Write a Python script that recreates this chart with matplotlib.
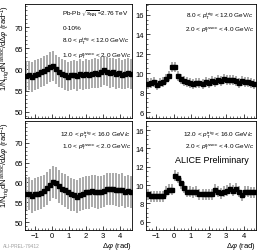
import matplotlib
matplotlib.use("Agg")
import matplotlib.pyplot as plt
import numpy as np

plt.rcParams['font.family'] = ['Liberation Sans', 'DejaVu Sans']
plt.rcParams['mathtext.fontset'] = 'custom'
plt.rcParams['mathtext.rm'] = 'Liberation Sans'
plt.rcParams['mathtext.it'] = 'Liberation Sans:italic'

# 36 bins in delta phi from -pi/2 to 3pi/2
nbins = 36
edges = np.linspace(-np.pi / 2, 3 * np.pi / 2, nbins + 1)
dphi = 0.5 * (edges[:-1] + edges[1:])

y_tl = [58.5, 58.6, 58.2, 58.7, 58.9, 59.3, 59.6, 60.0, 60.6, 60.8, 60.0, 59.4,
        59.0, 58.7, 58.3, 58.6, 58.8, 58.4, 58.9, 58.6, 58.9, 58.8, 59.0, 59.2,
        59.0, 59.4, 59.8, 59.5, 59.2, 59.3, 58.9, 59.2, 58.8, 58.9, 59.1, 58.9]
y_tr = [8.9, 9.0, 9.1, 8.8, 9.0, 9.1, 9.4, 9.7, 10.6, 10.6, 9.7, 9.4,
        9.2, 9.1, 9.0, 8.9, 9.0, 9.0, 8.9, 9.1, 9.0, 9.2, 9.1, 9.3,
        9.2, 9.4, 9.3, 9.3, 9.3, 9.2, 9.0, 9.2, 9.1, 9.1, 9.0, 8.9]
y_bl = [57.2, 57.2, 56.5, 57.0, 57.2, 57.4, 57.9, 58.5, 59.3, 60.1, 59.8, 59.0,
        58.3, 58.0, 57.5, 57.0, 56.8, 56.4, 56.9, 57.2, 57.5, 57.5, 57.9, 57.7,
        57.5, 57.6, 57.9, 58.3, 58.4, 58.4, 58.2, 58.0, 58.2, 57.6, 57.8, 57.6]
y_br = [9.0, 8.8, 8.8, 8.8, 8.8, 8.8, 9.3, 9.5, 9.5, 11.0, 10.8, 10.2,
        9.7, 9.3, 9.3, 9.2, 9.3, 9.0, 9.0, 9.0, 9.0, 9.0, 9.5, 9.3,
        9.1, 9.3, 9.4, 9.6, 9.4, 9.6, 9.3, 8.9, 9.3, 9.3, 9.2, 9.2]
syst = [3.5, 0.5, 4.1, 0.6]

fig = plt.figure(figsize=(2.62, 2.51), dpi=100)
W, H = 262, 251
boxes = [(25, 5, 132, 119), (146, 5, 256, 119), (25, 122, 132, 231), (146, 122, 256, 231)]
axes = []
for (x0, y0, x1, y1) in boxes:
    axes.append(fig.add_axes([x0 / W, 1 - y1 / H, (x1 - x0) / W, (y1 - y0) / H]))

data = [y_tl, y_tr, y_bl, y_br]
ylims = [(48.5, 75.5), (5.4, 17.1), (48.0, 75.5), (5.1, 17.0)]
for ax, y, s, yl in zip(axes, data, syst, ylims):
    y = np.array(y)
    ax.errorbar(dphi, y, yerr=s, fmt='none', ecolor='#aaaaaa', elinewidth=1.4, capsize=0)
    ax.errorbar(dphi, y, yerr=s * 0.08, fmt='s', color='black', ms=3.0, elinewidth=0.6)
    ax.set_xlim(-np.pi / 2, 3 * np.pi / 2)
    ax.set_ylim(*yl)
    ax.set_xticks([-1, 0, 1, 2, 3, 4])
    ax.xaxis.set_minor_locator(matplotlib.ticker.MultipleLocator(0.2))
    ax.tick_params(direction='in', labelsize=5.5, length=3, width=0.5, pad=1.5)
    ax.tick_params(which='minor', direction='in', length=1.5, width=0.4)
    for sp in ax.spines.values():
        sp.set_linewidth(0.6)

for ax in axes[:2]:
    ax.tick_params(labelbottom=False)
for ax in (axes[0], axes[2]):
    ax.set_yticks([50, 55, 60, 65, 70])
    ax.yaxis.set_minor_locator(matplotlib.ticker.MultipleLocator(1))
for ax in (axes[1], axes[3]):
    ax.set_yticks([6, 8, 10, 12, 14, 16])
    ax.yaxis.set_minor_locator(matplotlib.ticker.MultipleLocator(0.5))

ylab = r'1/N$_{\rm trig}$dN$^{\rm assoc}$/d$\Delta\varphi$ (rad$^{-1}$)'
for ax in (axes[0], axes[2]):
    ax.set_ylabel(ylab, fontsize=5.5, labelpad=2, loc='top')
for ax in (axes[2], axes[3]):
    ax.set_xlabel(r'$\Delta\varphi$ (rad)', fontsize=5.5, labelpad=1, loc='right')

fs = 4.6
trig1 = r'8.0 < $p_{\rm T}^{\rm trig}$ < 12.0 GeV/$c$'
trig2 = r'12.0 < $p_{\rm T}^{\rm trig}$ < 16.0 GeV/$c$'
ass1 = r'1.0 < $p_{\rm T}^{\rm assoc}$ < 2.0 GeV/$c$'
ass2 = r'2.0 < $p_{\rm T}^{\rm assoc}$ < 4.0 GeV/$c$'

a = axes[0]
a.text(0.35, 0.9, r'Pb-Pb $\sqrt{s_{\rm NN}}$=2.76 TeV', transform=a.transAxes, fontsize=fs)
a.text(0.35, 0.78, '0-10%', transform=a.transAxes, fontsize=fs)
a.text(0.35, 0.66, trig1, transform=a.transAxes, fontsize=fs)
a.text(0.35, 0.54, ass1, transform=a.transAxes, fontsize=fs)

a = axes[1]
a.text(0.98, 0.88, trig1, transform=a.transAxes, fontsize=fs, ha='right')
a.text(0.98, 0.77, ass2, transform=a.transAxes, fontsize=fs, ha='right')

a = axes[2]
a.text(0.99, 0.86, trig2, transform=a.transAxes, fontsize=fs, ha='right')
a.text(0.99, 0.76, ass1, transform=a.transAxes, fontsize=fs, ha='right')

a = axes[3]
a.text(0.98, 0.86, trig2, transform=a.transAxes, fontsize=fs, ha='right')
a.text(0.98, 0.76, ass2, transform=a.transAxes, fontsize=fs, ha='right')
a.text(0.93, 0.62, 'ALICE Preliminary', transform=a.transAxes, fontsize=6.5, ha='right')

fig.text(3 / W, 1 - 247 / H, 'ALI-PREL-79412', fontsize=3.5, color='#a0a0a0', va='center')

fig.savefig('out.png', dpi=100)
